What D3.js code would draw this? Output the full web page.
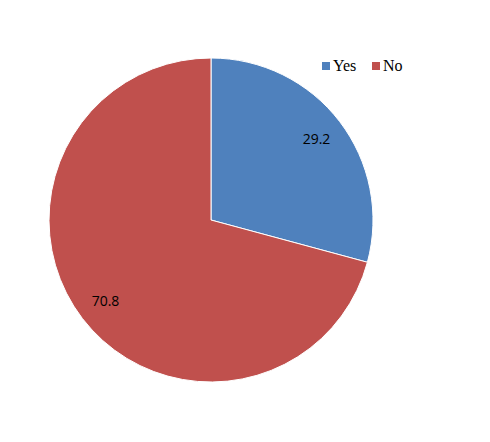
<!DOCTYPE html>
<html><head><meta charset="utf-8">
<script src="https://cdn.jsdelivr.net/npm/d3@7"></script>
<style>body{margin:0;background:#fff}</style>
</head><body>
<svg id="c" width="490" height="442"></svg>
<script>
const categories = ["Yes", "No"];
const values = [29.2, 70.8];
const colors = ["#4F81BD", "#C0504D"];

const svg = d3.select("#c");
const cx = 211, cy = 220, r = 162;
const g = svg.append("g").attr("transform", `translate(${cx},${cy})`);
const pie = d3.pie().sort(null).value(d => d)(values);
const arc = d3.arc().innerRadius(0).outerRadius(r);
g.selectAll("path").data(pie).join("path")
  .attr("d", arc).attr("fill", (d, i) => colors[i])
  .attr("stroke", "#fff").attr("stroke-width", 1);
const lab = d3.arc().innerRadius(r * 0.82).outerRadius(r * 0.82);
g.selectAll("text").data(pie).join("text")
  .attr("transform", d => `translate(${lab.centroid(d)})`)
  .attr("text-anchor", "middle").attr("dy", "0.35em")
  .attr("font-family", "Open Sans, Liberation Sans, sans-serif").attr("font-size", 14)
  .attr("fill", "#000")
  .text(d => d.data.toFixed(1));

const leg = svg.append("g");
const lx = [322, 372];
categories.forEach((c, i) => {
  leg.append("rect").attr("x", lx[i]).attr("y", 62).attr("width", 8).attr("height", 8).attr("fill", colors[i]);
  leg.append("text").attr("x", lx[i] + 11).attr("y", 71)
    .attr("font-family", "Liberation Serif, serif").attr("font-size", 16).text(c);
});
</script>
</body></html>
